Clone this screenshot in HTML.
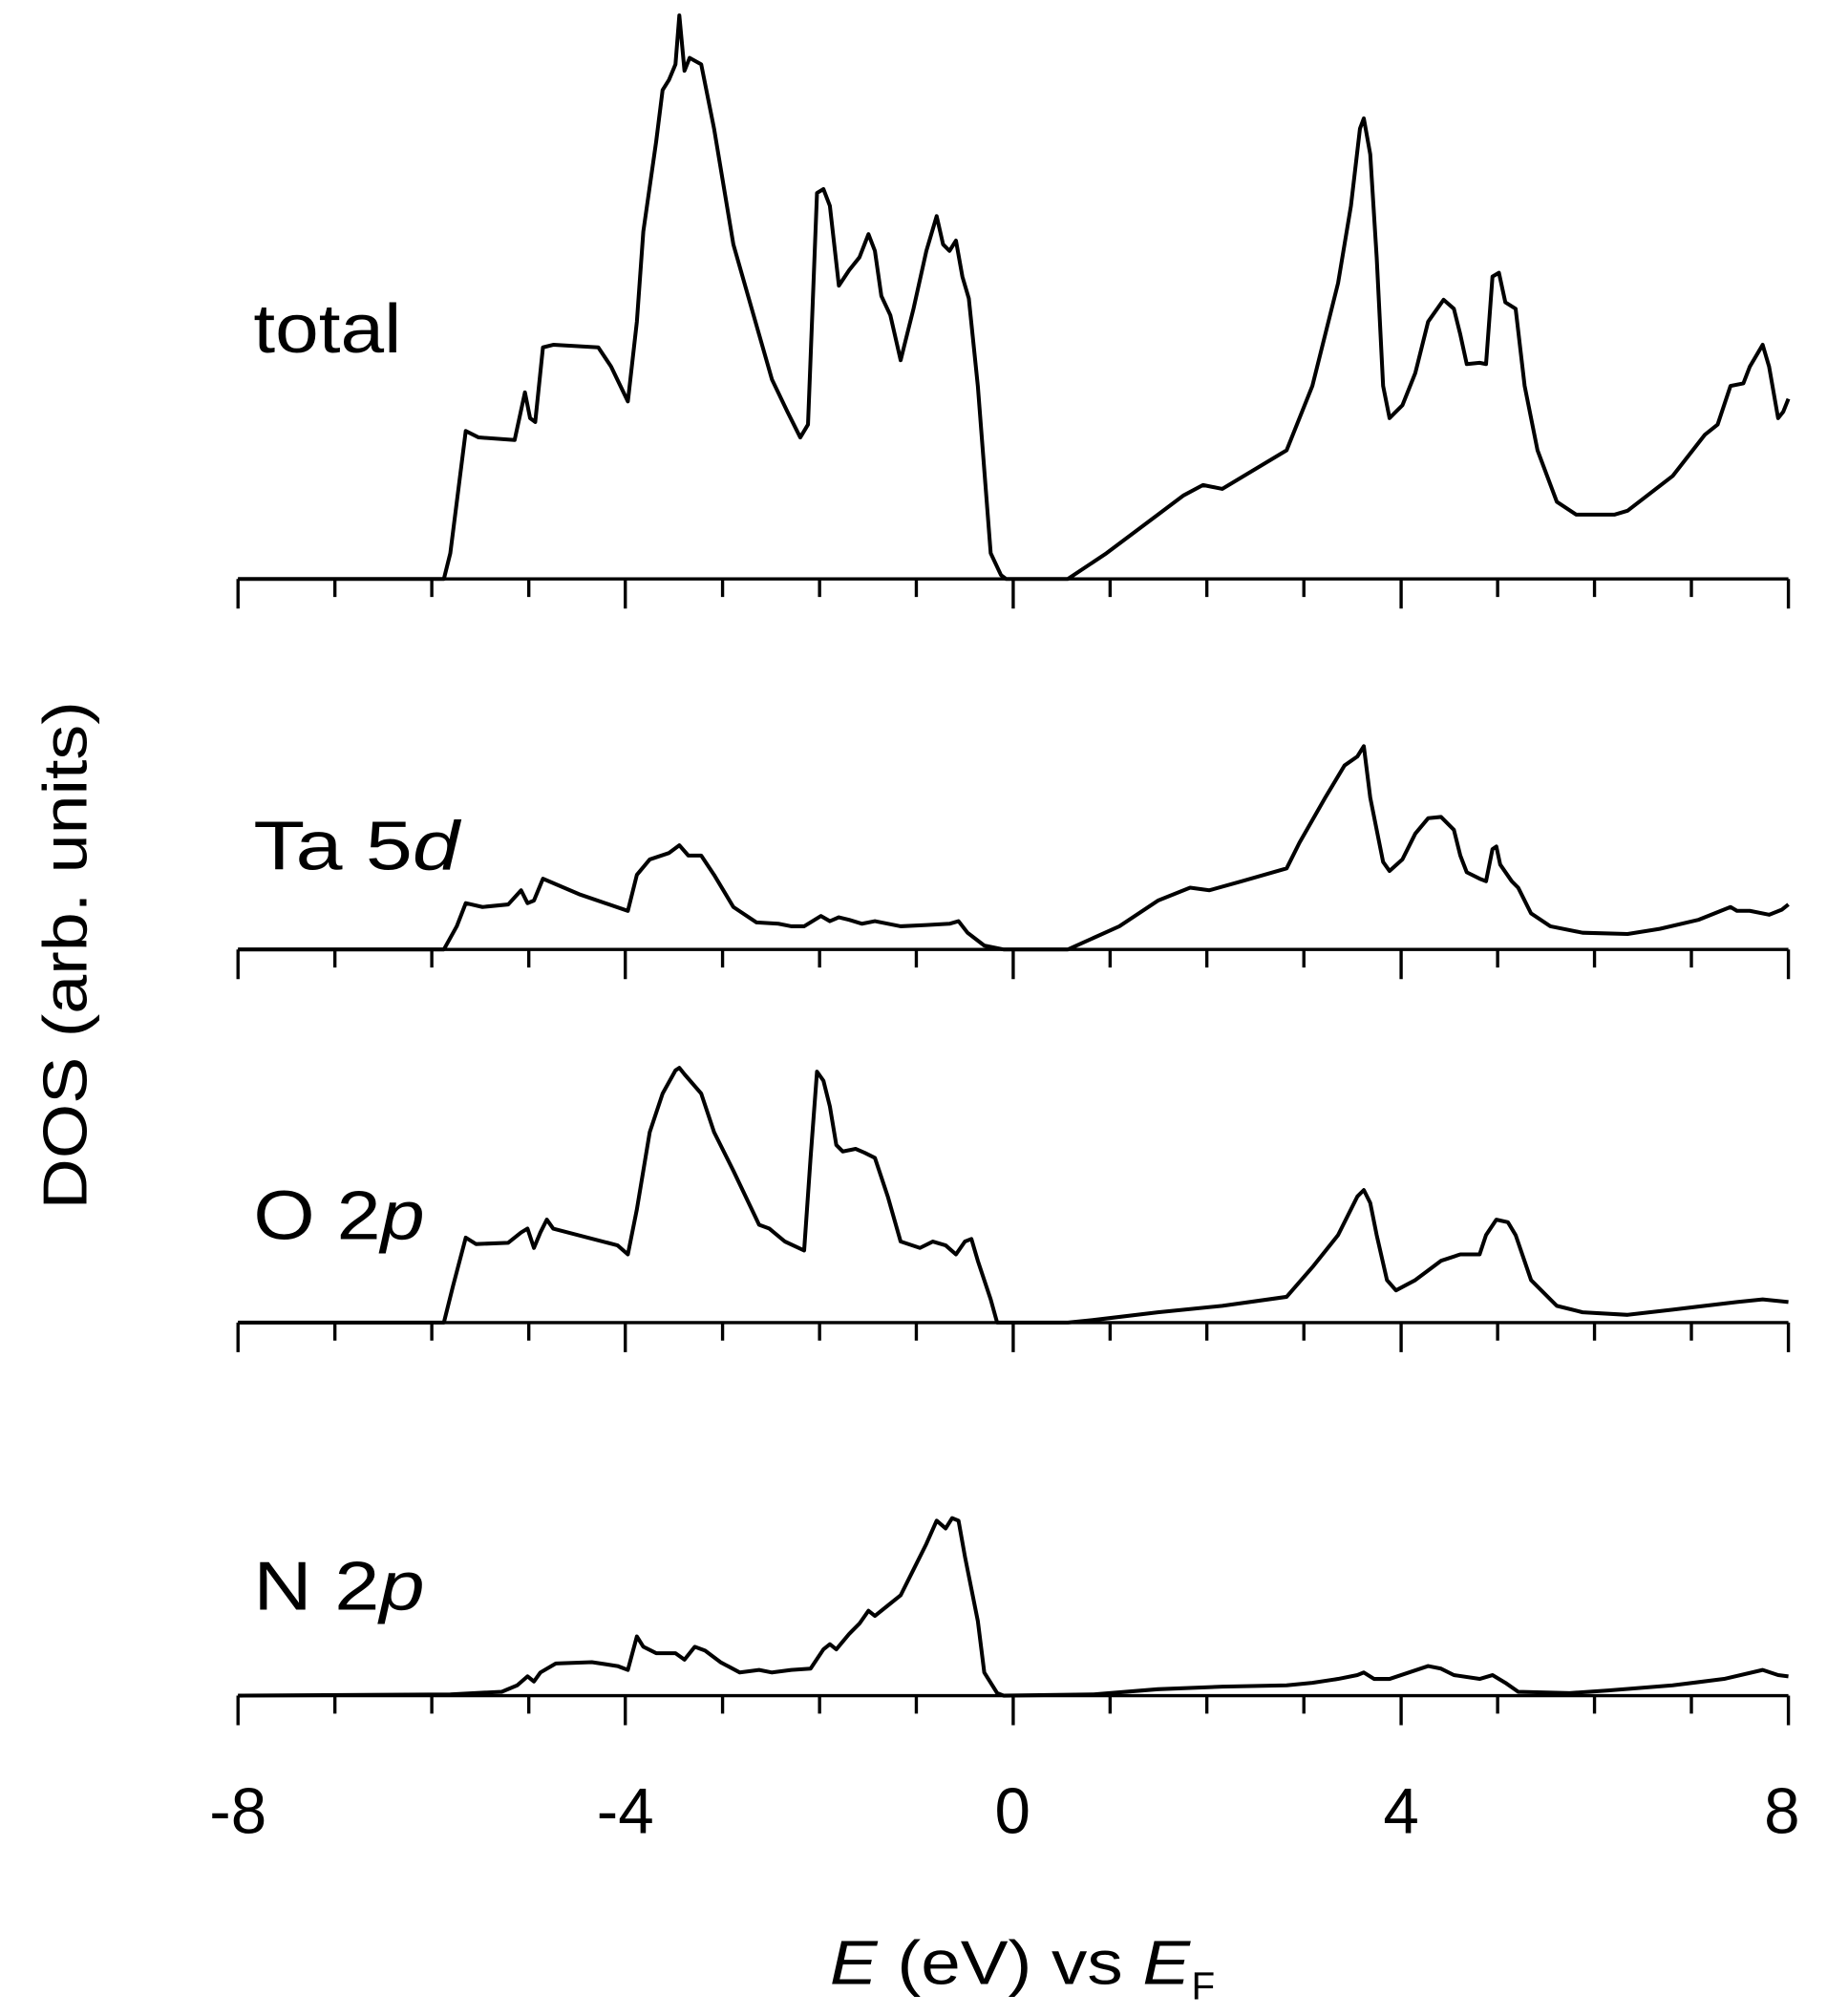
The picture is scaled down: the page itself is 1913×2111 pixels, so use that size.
<!DOCTYPE html>
<html><head><meta charset="utf-8"><style>html,body{margin:0;padding:0;background:#fff}svg{display:block}</style></head>
<body>
<svg width="1913" height="2111" viewBox="0 0 1420 1567" preserveAspectRatio="none" xmlns="http://www.w3.org/2000/svg">
<g fill="none" stroke="#000" stroke-width="3" stroke-linejoin="round">
<path d="M185,450 L345,450 L350,430 L362,335 L372,340 L400,342 L408,305 L412,325 L416,328 L422,270 L430,268 L465,270 L475,285 L488,312 L495,250 L500,180 L510,110 L515,70 L520,62 L525,50 L528,12 L532,55 L536,45 L545,50 L555,100 L570,190 L590,260 L600,295 L612,320 L622,340 L628,330 L635,150 L640,147 L645,160 L652,222 L660,210 L668,200 L675,182 L680,195 L685,230 L692,245 L700,280 L710,240 L720,195 L728,168 L733,190 L738,195 L743,187 L748,215 L753,232 L760,300 L770,430 L778,447 L782,450 L830,450 L860,430 L900,400 L920,385 L935,377 L950,380 L1000,350 L1020,300 L1040,220 L1050,160 L1057,100 L1060,92 L1065,120 L1070,200 L1075,300 L1080,325 L1090,315 L1100,290 L1110,250 L1122,233 L1130,240 L1135,260 L1140,283 L1150,282 L1155,283 L1160,215 L1165,212 L1170,235 L1178,240 L1185,300 L1195,350 L1210,390 L1225,400 L1255,400 L1265,397 L1300,370 L1325,338 L1335,330 L1345,300 L1355,298 L1360,285 L1370,268 L1375,285 L1382,325 L1386,320 L1390,310"/>
<path d="M185,738 L345,738 L355,720 L362,702 L375,705 L395,703 L405,692 L410,702 L415,700 L422,683 L450,695 L488,708 L495,680 L505,668 L520,663 L528,657 L535,665 L545,665 L555,680 L570,705 L588,717 L605,718 L615,720 L625,720 L638,712 L645,716 L652,713 L660,715 L670,718 L680,716 L700,720 L720,719 L738,718 L745,716 L752,725 L765,735 L780,738 L830,738 L870,720 L900,700 L925,690 L940,692 L965,685 L1000,675 L1010,655 L1030,620 L1045,595 L1055,588 L1060,580 L1065,620 L1075,670 L1080,677 L1090,668 L1100,648 L1110,636 L1120,635 L1130,645 L1135,665 L1140,678 L1150,683 L1155,685 L1160,660 L1163,658 L1166,672 L1175,685 L1180,690 L1190,710 L1205,720 L1230,725 L1265,726 L1290,722 L1320,715 L1345,705 L1350,708 L1360,708 L1375,711 L1385,707 L1390,703"/>
<path d="M185,1028 L345,1028 L352,1000 L362,962 L370,967 L395,966 L405,958 L410,955 L415,970 L420,958 L425,948 L430,955 L480,968 L488,975 L495,940 L505,880 L515,850 L525,832 L528,830 L532,835 L545,850 L555,880 L570,910 L590,952 L598,955 L610,965 L625,972 L630,900 L635,833 L640,840 L645,860 L650,890 L655,895 L665,893 L672,896 L680,900 L690,930 L700,965 L715,970 L725,965 L735,968 L743,975 L750,965 L755,963 L760,980 L770,1010 L775,1028 L830,1028 L850,1026 L900,1020 L950,1015 L1000,1008 L1020,985 L1040,960 L1055,930 L1060,925 L1065,935 L1070,960 L1078,995 L1085,1003 L1100,995 L1120,980 L1135,975 L1150,975 L1155,960 L1163,948 L1172,950 L1178,960 L1190,995 L1210,1015 L1230,1020 L1265,1022 L1300,1018 L1350,1012 L1370,1010 L1390,1012"/>
<path d="M185,1318 L350,1317 L390,1315 L402,1310 L410,1303 L415,1307 L420,1300 L432,1293 L460,1292 L480,1295 L488,1298 L495,1272 L500,1280 L510,1285 L525,1285 L532,1290 L540,1280 L548,1283 L560,1292 L575,1300 L590,1298 L600,1300 L615,1298 L630,1297 L640,1282 L645,1278 L650,1282 L660,1270 L668,1262 L675,1252 L680,1256 L690,1248 L700,1240 L710,1220 L720,1200 L728,1182 L735,1188 L740,1180 L745,1182 L750,1210 L760,1260 L765,1300 L775,1316 L780,1318 L850,1317 L900,1313 L950,1311 L1000,1310 L1020,1308 L1040,1305 L1055,1302 L1060,1300 L1068,1305 L1080,1305 L1095,1300 L1110,1295 L1120,1297 L1130,1302 L1150,1305 L1160,1302 L1170,1308 L1180,1315 L1220,1316 L1250,1314 L1300,1310 L1340,1305 L1370,1298 L1382,1302 L1390,1303"/>
</g>
<g stroke="#000" stroke-width="2.5" fill="none" id="ax">
<path d="M185,450H1390 M185,450v23 M260.3,450v14 M335.6,450v14 M411,450v14 M486,450v23 M561.6,450v14 M637,450v14 M712.2,450v14 M787.5,450v23 M862.8,450v14 M938,450v14 M1013.4,450v14 M1089,450v23 M1164,450v14 M1239.3,450v14 M1314.6,450v14 M1390,450v23"/>
</g>
<use href="#ax" transform="translate(0,288)"/>
<use href="#ax" transform="translate(0,578)"/>
<use href="#ax" transform="translate(0,868)"/>
<g font-family="Liberation Sans, sans-serif" font-size="54" fill="#000">
<text x="197" y="274" textLength="115" lengthAdjust="spacingAndGlyphs">total</text>
<text x="197" y="676" textLength="160" lengthAdjust="spacingAndGlyphs">Ta 5<tspan font-style="italic">d</tspan></text>
<text x="197" y="963" textLength="133" lengthAdjust="spacingAndGlyphs">O 2<tspan font-style="italic">p</tspan></text>
<text x="197" y="1251" textLength="133" lengthAdjust="spacingAndGlyphs">N 2<tspan font-style="italic">p</tspan></text>
</g>
<g font-family="Liberation Sans, sans-serif" font-size="50" fill="#000" text-anchor="middle">
<text x="185" y="1425">-8</text>
<text x="486" y="1425">-4</text>
<text x="787" y="1425">0</text>
<text x="1089" y="1425">4</text>
<text x="1385" y="1425">8</text>
</g>
<g font-family="Liberation Sans, sans-serif" font-size="48" fill="#000">
<text x="645" y="1542" textLength="280" lengthAdjust="spacingAndGlyphs"><tspan font-style="italic">E</tspan> (eV) vs <tspan font-style="italic">E</tspan></text>
<text x="926" y="1554" font-size="30">F</text>
<text transform="translate(67,940) rotate(-90)" textLength="395" lengthAdjust="spacingAndGlyphs">DOS (arb. units)</text>
</g>
</svg>
</body></html>
